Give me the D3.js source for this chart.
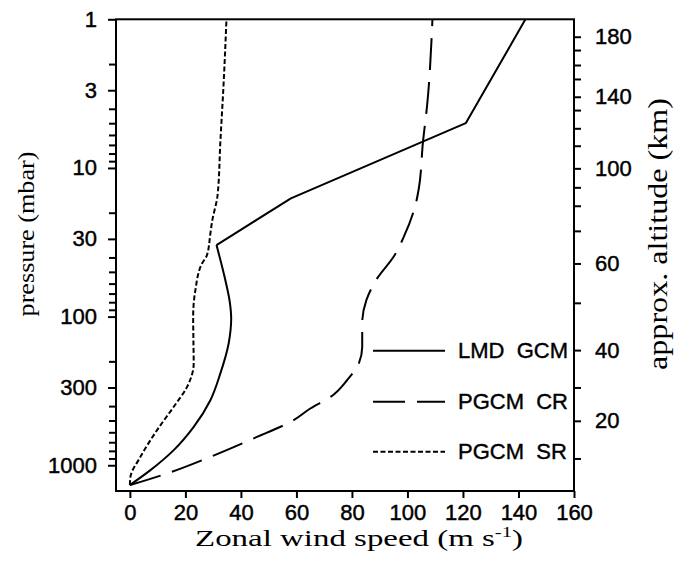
<!DOCTYPE html>
<html>
<head>
<meta charset="utf-8">
<script src="https://cdn.jsdelivr.net/npm/d3@7"></script>
<style>
  body { margin: 0; background: #fff; }
  svg { display: block; }
</style>
</head>
<body>
<svg width="689" height="564"></svg>
<script>
// axis ticks
const speedTicks = [0, 20, 40, 60, 80, 100, 120, 140, 160];
const pressureLabels = [1, 3, 10, 30, 100, 300, 1000];
const pressureMinor = [2, 4, 5, 6, 7, 8, 9, 20, 40, 50, 60, 70, 80, 90, 200, 400, 500, 600, 700, 800, 900];
// approx altitude (km) and the pressure (mbar) it sits at
const altKm = [180, 170, 160, 150, 140, 130, 120, 110, 100, 90, 80, 70, 60, 50, 40, 30, 20, 10];
const altPressure = [1.31, 1.61, 2.03, 2.52, 3.32, 4.08, 5.41, 7.09, 10.06, 13.5, 17.96, 26.5, 43.9, 80.8, 168, 299.6, 502.5, 900];
const altLabels = [180, 140, 100, 60, 40, 20];

const seriesNames = ["LMD  GCM", "PGCM  CR", "PGCM  SR"];

// LMD GCM (solid)
const lmdP = [1360, 1079, 791, 552, 365, 241, 151, 103, 80, 57, 33, 16, 5, 1];
const lmdU = [0, 7.4, 15.8, 23, 29, 32.6, 35.6, 36.5, 36, 34.4, 31.2, 58, 121, 142.5];
// PGCM CR (long dash)
const crP = [1360, 1135, 878, 660, 497, 415, 347, 267, 206, 160, 111, 77.4, 55.3, 39.6, 29, 17.7, 13.7, 6.66, 3.77, 1];
const crU = [0, 13.4, 29, 44.6, 59, 65, 72.3, 78.3, 82.5, 83.7, 83.7, 85.2, 89.1, 95, 98.7, 102.9, 104.1, 105.6, 107.1, 109];
// PGCM SR (short dash)
const srP = [1360, 1197, 878, 580, 404, 297, 206, 150, 100, 66.3, 43.9, 38.5, 27.6, 23, 15.2, 6.66, 2.63, 1];
const srU = [0, 0.2, 3.8, 9.8, 15.8, 20.6, 23, 22.9, 22.8, 23.6, 26, 27.8, 29, 29.6, 31.6, 32.6, 33.8, 34.8];

const svg = d3.select("svg");
const mLeft = 116, mRight = 574, mTop = 19.3, mBottom = 491;

const x = d3.scaleLinear().domain([-5, 160]).range([mLeft, mRight]);
const y = d3.scaleLog().domain([1, 1490]).range([mTop, mBottom]);

const tickFont = "'Liberation Sans', Arial, sans-serif";
const serif = "'Liberation Serif', 'Times New Roman', serif";

function styleAxis(g) {
  g.select(".domain").remove();
  g.selectAll("line").attr("stroke", "#000").attr("stroke-width", 2);
  g.selectAll("text").attr("fill", "#000").attr("font-family", tickFont).attr("font-size", 22)
    .attr("stroke", "#000").attr("stroke-width", 0.45);
}

// left: minor then labelled ticks
svg.append("g").attr("transform", `translate(${mLeft},0)`)
  .call(d3.axisLeft(y).tickValues(pressureMinor).tickFormat("").tickSize(7).tickSizeOuter(0))
  .call(styleAxis);
svg.append("g").attr("transform", `translate(${mLeft},0)`)
  .call(d3.axisLeft(y).tickValues(pressureLabels).tickFormat(d3.format("d")).tickSize(8).tickPadding(11).tickSizeOuter(0))
  .call(styleAxis);

// bottom
svg.append("g").attr("transform", `translate(0,${mBottom})`)
  .call(d3.axisBottom(x).tickValues(speedTicks).tickSize(7).tickPadding(6).tickSizeOuter(0))
  .call(styleAxis);

// right: altitude
svg.append("g").attr("transform", `translate(${mRight},0)`)
  .call(d3.axisRight(y).tickValues(altPressure).tickSize(7).tickPadding(14).tickSizeOuter(0)
    .tickFormat((d, i) => altLabels.includes(altKm[i]) ? altKm[i] : ""))
  .call(styleAxis);

// frame
svg.append("rect")
  .attr("x", mLeft).attr("y", mTop)
  .attr("width", mRight - mLeft).attr("height", mBottom - mTop)
  .attr("fill", "none").attr("stroke", "#000").attr("stroke-width", 2);

// curves
const linear = d3.line().x(d => x(d[0])).y(d => y(d[1]));
const smooth = d3.line().x(d => x(d[0])).y(d => y(d[1])).curve(d3.curveMonotoneY);
const dashes = [null, "32,12", "5,2.5"];

const lmd = d3.zip(lmdU, lmdP);
const kink = lmdP.indexOf(33);
// LMD: smooth below the 33 mbar kink, straight segments above it
const paths = [
  { d: smooth(lmd.slice(0, kink + 1)), dash: dashes[0] },
  { d: linear(lmd.slice(kink)), dash: dashes[0] },
  { d: smooth(d3.zip(crU, crP)), dash: dashes[1] },
  { d: smooth(d3.zip(srU, srP)), dash: dashes[2] }
];

paths.forEach(p => {
  svg.append("path")
    .attr("d", p.d)
    .attr("fill", "none")
    .attr("stroke", "#000")
    .attr("stroke-width", 2)
    .attr("stroke-linejoin", "round")
    .attr("stroke-dasharray", p.dash);
});

// legend
const legendY = [350.7, 401.7, 451.7];
seriesNames.forEach((name, i) => {
  svg.append("line")
    .attr("x1", 373).attr("x2", 445)
    .attr("y1", legendY[i]).attr("y2", legendY[i])
    .attr("stroke", "#000").attr("stroke-width", 2)
    .attr("stroke-dasharray", dashes[i]);
  svg.append("text")
    .attr("x", 458).attr("y", legendY[i])
    .attr("dominant-baseline", "central")
    .attr("font-family", tickFont).attr("font-size", 22)
    .attr("stroke", "#000").attr("stroke-width", 0.4)
    .style("white-space", "pre")
    .text(name);
});

// titles, stretched to the length seen in the figure
function fit(t, len, cx, cy, rotate) {
  const w = t.node().getBBox().width;
  const s = len / w;
  const rot = rotate ? ` rotate(${rotate})` : "";
  t.attr("text-anchor", "middle")
   .attr("transform", `translate(${cx},${cy})${rot} scale(${s},1)`);
}

const xt = svg.append("text").attr("font-family", serif).attr("font-size", 24).attr("fill", "#000");
xt.append("tspan").text("Zonal wind speed (m s");
xt.append("tspan").attr("font-size", 15).attr("dy", -9).text("-1");
xt.append("tspan").attr("dy", 9).text(")");
fit(xt, 328, 359, 546);

const yl = svg.append("text").attr("font-family", serif).attr("font-size", 23).attr("fill", "#000")
  .text("pressure (mbar)");
fit(yl, 165, 34.2, 234, -90);

const yr = svg.append("text").attr("font-family", serif).attr("font-size", 28).attr("fill", "#000")
  .text("approx. altitude (km)");
fit(yr, 272, 666.5, 234, -90);
</script>
</body>
</html>
